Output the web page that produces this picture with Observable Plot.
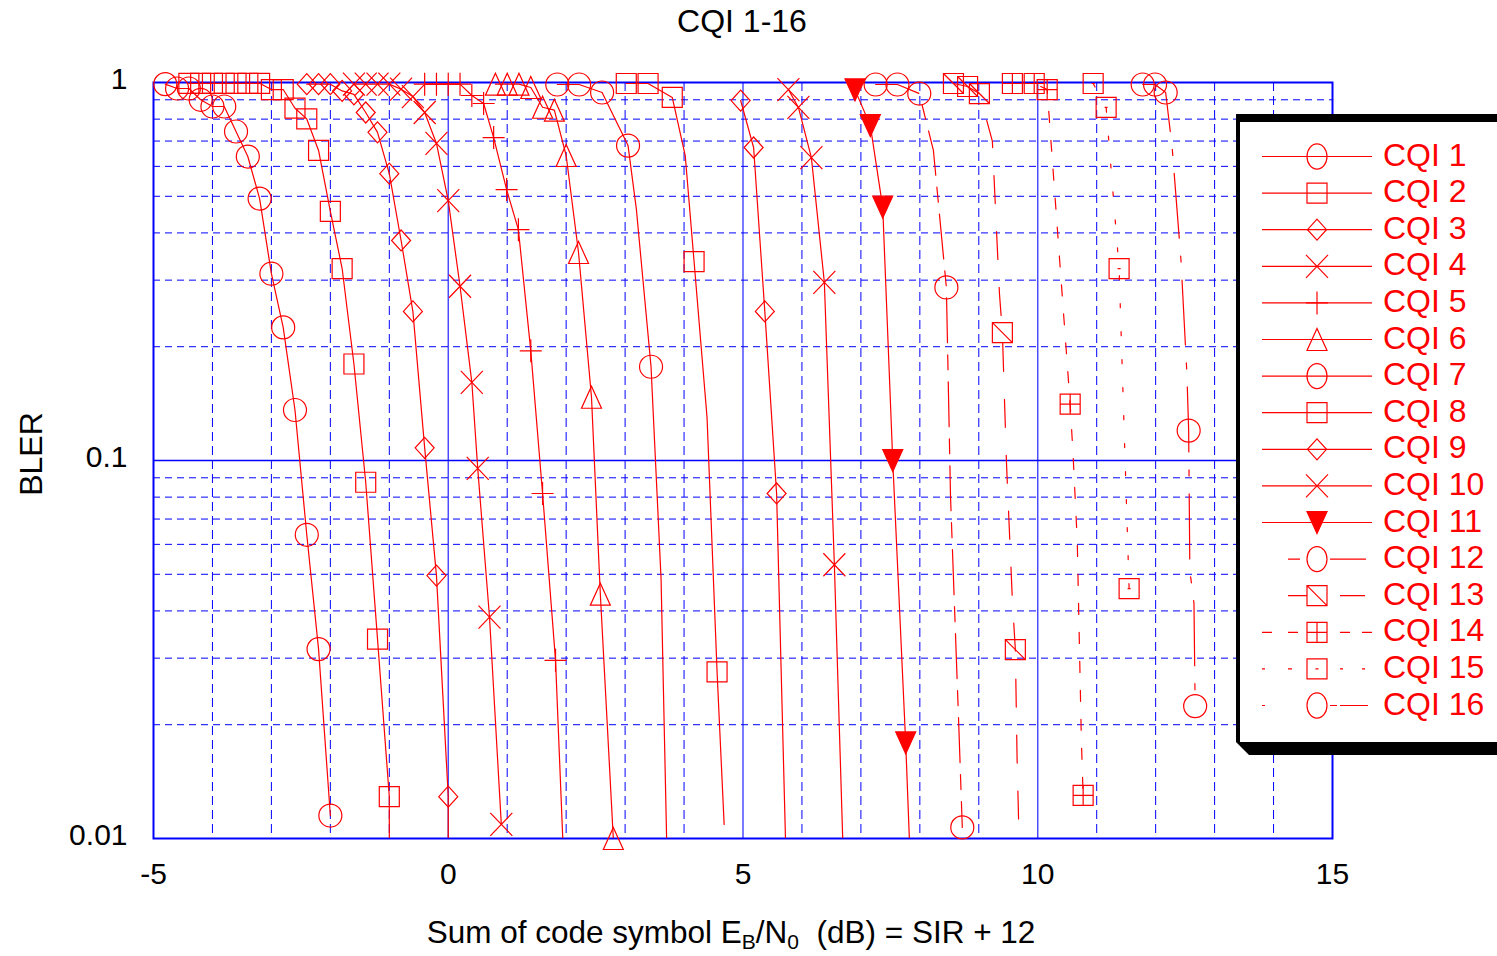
<!DOCTYPE html>
<html><head><meta charset="utf-8">
<script src="https://cdn.jsdelivr.net/npm/d3@7"></script>
<script src="https://cdn.jsdelivr.net/npm/@observablehq/plot@0.6"></script>
<style>
html,body{margin:0;padding:0;background:#fff;}
#chart{width:1497px;height:956px;}
</style>
</head><body><div id="chart"></div>
<script>
// ---------- DATA (x = Eb/N0 dB, y = BLER, 3rd = marker drawn) ----------
const cqiNames = ["CQI 1","CQI 2","CQI 3","CQI 4","CQI 5","CQI 6","CQI 7","CQI 8","CQI 9","CQI 10","CQI 11","CQI 12","CQI 13","CQI 14","CQI 15","CQI 16"];
const cqi1 = [[-4.8,0.99,1],[-4.6,0.964,1],[-4.4,0.964,1],[-4.2,0.90,1],[-4.0,0.864,1],[-3.8,0.864,1],[-3.6,0.742,1],[-3.4,0.637,1],[-3.2,0.493,1],[-3.0,0.312,1],[-2.8,0.225,1],[-2.6,0.136,1],[-2.4,0.0636,1],[-2.2,0.0317,1],[-2.0,0.0115,1]];
const cqi2 = [[-4.4,0.995,1],[-4.2,0.995,1],[-4.0,0.995,1],[-3.8,0.995,1],[-3.6,0.995,1],[-3.4,0.995,1],[-3.2,0.995,1],[-3.0,0.958,1],[-2.8,0.958,1],[-2.6,0.855,1],[-2.4,0.801,1],[-2.2,0.661,1],[-2.0,0.456,1],[-1.8,0.322,1],[-1.6,0.180,1],[-1.4,0.0876,1],[-1.2,0.0337,1],[-1.0,0.0129,1],[-1.0,0.0001,0]];
const cqi3 = [[-2.4,0.99,1],[-2.2,0.99,1],[-2.0,0.99,1],[-1.8,0.95,1],[-1.6,0.93,1],[-1.4,0.833,1],[-1.2,0.738,1],[-1.0,0.574,1],[-0.8,0.382,1],[-0.6,0.248,1],[-0.4,0.108,1],[-0.2,0.0496,1],[0.0,0.0129,1],[0.0,0.0001,0]];
const cqi4 = [[-1.6,0.99,1],[-1.4,0.99,1],[-1.2,0.99,1],[-1.0,0.99,1],[-0.8,0.96,1],[-0.6,0.918,1],[-0.4,0.833,1],[-0.2,0.690,1],[0.0,0.487,1],[0.2,0.289,1],[0.4,0.161,1],[0.5,0.0953,1],[0.7,0.0385,1],[0.9,0.0109,1]];
const cqi5 = [[-0.4,0.99,1],[-0.2,0.99,1],[0.0,0.99,1],[0.2,0.99,1],[0.4,0.924,1],[0.6,0.880,1],[0.77,0.715,1],[0.99,0.521,1],[1.19,0.408,1],[1.40,0.195,1],[1.60,0.0818,1],[1.82,0.0296,1],[2.0,0.006,0]];
const cqi6 = [[0.8,0.99,1],[1.0,0.99,1],[1.2,0.99,1],[1.4,0.97,1],[1.6,0.86,1],[1.8,0.845,1],[2.0,0.641,1],[2.21,0.355,1],[2.43,0.147,1],[2.58,0.0443,1],[2.80,0.01,1]];
const cqi7 = [[1.85,0.988,1],[2.22,0.988,1],[2.61,0.941,1],[3.05,0.681,1],[3.19,0.464,0],[3.44,0.177,1],[3.61,0.0487,0],[3.8,0.002,0]];
const cqi8 = [[3.02,0.994,1],[3.39,0.994,1],[3.80,0.913,1],[4.02,0.641,0],[4.17,0.336,1],[4.39,0.130,0],[4.56,0.0276,1],[4.68,0.0109,0]];
const cqi9 = [[4.96,0.896,1],[5.18,0.673,1],[5.37,0.248,1],[5.57,0.0818,1],[5.77,0.005,0]];
const cqi10 = [[5.77,0.958,1],[5.94,0.859,1],[6.16,0.633,1],[6.38,0.296,1],[6.55,0.053,1],[6.75,0.005,0]];
const cqi11 = [[6.90,0.956,1],[7.16,0.769,1],[7.37,0.468,1],[7.54,0.100,1],[7.76,0.0179,1],[7.95,0.003,0]];
const cqi12 = [[7.25,0.988,1],[7.62,0.988,1],[7.99,0.935,1],[8.23,0.661,0],[8.45,0.287,1],[8.52,0.0806,0],[8.66,0.0200,0],[8.72,0.0107,1]];
const cqi13 = [[8.57,0.994,1],[8.81,0.976,1],[9.01,0.935,1],[9.23,0.70,0],[9.35,0.277,0],[9.40,0.218,1],[9.47,0.098,0],[9.57,0.0426,0],[9.62,0.0316,1],[9.65,0.0161,0],[9.70,0.0078,0]];
const cqi14 = [[9.57,0.994,1],[9.94,0.994,1],[10.16,0.958,1],[10.55,0.141,1],[10.60,0.103,0],[10.67,0.0614,0],[10.74,0.0182,0],[10.77,0.0130,1]];
const cqi15 = [[10.94,0.994,1],[11.16,0.859,1],[11.38,0.322,1],[11.55,0.0458,1]];
const cqi16 = [[11.78,0.988,1],[11.99,0.988,1],[12.17,0.941,1],[12.28,0.673,0],[12.43,0.338,0],[12.53,0.170,0],[12.56,0.120,1],[12.58,0.0512,0],[12.65,0.0419,0],[12.67,0.0224,1]];

const xTicks = [-5, 0, 5, 10, 15];
const yTicks = [0.01, 0.1, 1];
const gridMinorX = [-4,-3,-2,-1,1,2,3,4,6,7,8,9,11,12,13,14];
const gridMajorX = [0,5,10];
const gridMinorY = [0.02,0.03,0.04,0.05,0.06,0.07,0.08,0.09,0.2,0.3,0.4,0.5,0.6,0.7,0.8,0.9];
const gridMajorY = [0.1];

// ---------- STYLES ----------
const series = [cqi1,cqi2,cqi3,cqi4,cqi5,cqi6,cqi7,cqi8,cqi9,cqi10,cqi11,cqi12,cqi13,cqi14,cqi15,cqi16];
const RED = "#ff0000", BLUE = "#0000ff";
const sym = (fn) => ({draw(c){ fn(c); }});
const symCircle = sym(c=>{c.moveTo(11.5,0); c.arc(0,0,11.5,0,2*Math.PI); c.closePath();});
const symSquare = sym(c=>{c.rect(-10,-10,20,20);});
const symDiamond = sym(c=>{c.moveTo(0,-10.5); c.lineTo(9.5,0); c.lineTo(0,10.5); c.lineTo(-9.5,0); c.closePath();});
const symTimes = sym(c=>{c.moveTo(-11,-11.5); c.lineTo(11,11.5); c.moveTo(11,-11.5); c.lineTo(-11,11.5);});
const symPlus = sym(c=>{c.moveTo(-11,0); c.lineTo(11,0); c.moveTo(0,-11.5); c.lineTo(0,11.5);});
const symTriUp = sym(c=>{c.moveTo(0,-11); c.lineTo(10,11); c.lineTo(-10,11); c.closePath();});
const symTriDown = sym(c=>{c.moveTo(-10,-11); c.lineTo(10,-11); c.lineTo(0,11); c.closePath();});
const symSqDiag = sym(c=>{c.rect(-10,-10,20,20); c.moveTo(-10,-10); c.lineTo(10,10);});
const symSqCross = sym(c=>{c.rect(-10,-10,20,20); c.moveTo(0,-10); c.lineTo(0,10); c.moveTo(-10,0); c.lineTo(10,0);});
const symSqDot = sym(c=>{c.rect(-10,-10,20,20); c.moveTo(-1.5,0); c.lineTo(1.5,0);});
const symbols = [symCircle,symSquare,symDiamond,symTimes,symPlus,symTriUp,symCircle,symSquare,symDiamond,symTimes,symTriDown,symCircle,symSqDiag,symSqCross,symSqDot,symCircle];
const dashes = [null,null,null,null,null,null,null,null,null,null,null,"45,12,15,12","28,28","11,18","4,24","65,18,6,18"];
const legendDashes = [null,null,null,null,null,null,null,null,null,null,null,"0,26,12,30,36,100","0,26,19,33,25,100","10,16,10,42,10,12,10,100","3,23,4,48,3,19,3,100","3,65,7,3,28,100"];

const marks = [
  Plot.ruleX(gridMinorX, {stroke: BLUE, strokeWidth: 1, strokeDasharray: "9,5"}),
  Plot.ruleY(gridMinorY, {stroke: BLUE, strokeWidth: 1, strokeDasharray: "7,5"}),
  Plot.ruleX(gridMajorX, {stroke: BLUE, strokeWidth: 1.4, strokeOpacity: 0.75}),
  Plot.ruleY(gridMajorY, {stroke: BLUE, strokeWidth: 1.6}),
  Plot.frame({stroke: BLUE, strokeWidth: 2})
];
series.forEach((s, i) => {
  marks.push(Plot.line(s, {x: d => d[0], y: d => d[1], stroke: RED, strokeWidth: 1.2,
    strokeDasharray: dashes[i] || undefined, clip: true}));
});
series.forEach((s, i) => {
  marks.push(Plot.dot(s.filter(d => d[2]), {x: d => d[0], y: d => d[1], symbol: symbols[i],
    stroke: RED, strokeWidth: 1.2, fill: i === 10 ? RED : "none"}));
});
marks.push(Plot.axisX(xTicks, {tickSize: 0, tickPadding: 24, fontSize: 30, label: null, tickFormat: d => String(d)}));
marks.push(Plot.axisY(yTicks, {tickSize: 0, tickPadding: 26, fontSize: 30, label: null, dy: -3, tickFormat: d => String(d)}));

const chart = Plot.plot({
  width: 1497, height: 956,
  marginLeft: 153, marginRight: 165, marginTop: 82, marginBottom: 118,
  style: {fontFamily: "'Liberation Sans', Arial, Helvetica, sans-serif", fontSize: "30px", color: "#000", background: "#fff"},
  x: {domain: [-5, 15]},
  y: {type: "log", domain: [0.01, 1]},
  marks
});
document.getElementById("chart").appendChild(chart);

// ---------- titles ----------
const svg = d3.select(chart);
const ff = "'Liberation Sans', Arial, Helvetica, sans-serif";
svg.append("text").attr("x", 742).attr("y", 32).attr("text-anchor", "middle")
  .attr("font-family", ff).attr("font-size", 32).attr("fill", "#000").text("CQI 1-16");
svg.append("text").attr("transform", "translate(42,454) rotate(-90)").attr("text-anchor", "middle")
  .attr("font-family", ff).attr("font-size", 32).attr("fill", "#000").text("BLER");
const xl = svg.append("text").attr("x", 731).attr("y", 943).attr("text-anchor", "middle")
  .attr("font-family", ff).attr("font-size", 31.5).attr("fill", "#000").attr("xml:space", "preserve");
xl.append("tspan").text("Sum of code symbol E");
xl.append("tspan").attr("dy", 6).attr("font-size", 21).text("B");
xl.append("tspan").attr("dy", -6).text("/N");
xl.append("tspan").attr("dy", 6).attr("font-size", 21).text("0");
xl.append("tspan").attr("dy", -6).text("\u00a0 (dB) = SIR + 12");

// ---------- legend ----------
const lg = svg.append("g").attr("text-anchor", "start");
lg.append("path").attr("d", "M1236,114 H1497 V755 H1249 L1236,742 Z").attr("fill", "#000");
lg.append("rect").attr("x", 1240).attr("y", 122).attr("width", 257).attr("height", 620).attr("fill", "#fff");
cqiNames.forEach((name, i) => {
  const y = 156.5 + i * 36.6;
  lg.append("line").attr("x1", 1262).attr("x2", 1372).attr("y1", y).attr("y2", y)
    .attr("stroke", RED).attr("stroke-width", 1.2)
    .attr("stroke-dasharray", legendDashes[i]);
  const p = d3.path(); symbols[i].draw(p);
  const isCircle = symbols[i] === symCircle;
  lg.append("path").attr("d", p.toString())
    .attr("transform", `translate(1317,${y})` + (isCircle ? " scale(0.87,1.09)" : ""))
    .attr("vector-effect", "non-scaling-stroke")
    .attr("fill", i === 10 ? RED : "none").attr("stroke", RED).attr("stroke-width", 1.2);
  lg.append("text").attr("x", 1383).attr("y", y + 9).attr("text-anchor", "start")
    .attr("font-family", ff).attr("font-size", 32).attr("fill", RED).text(name);
});
</script>
</body></html>
